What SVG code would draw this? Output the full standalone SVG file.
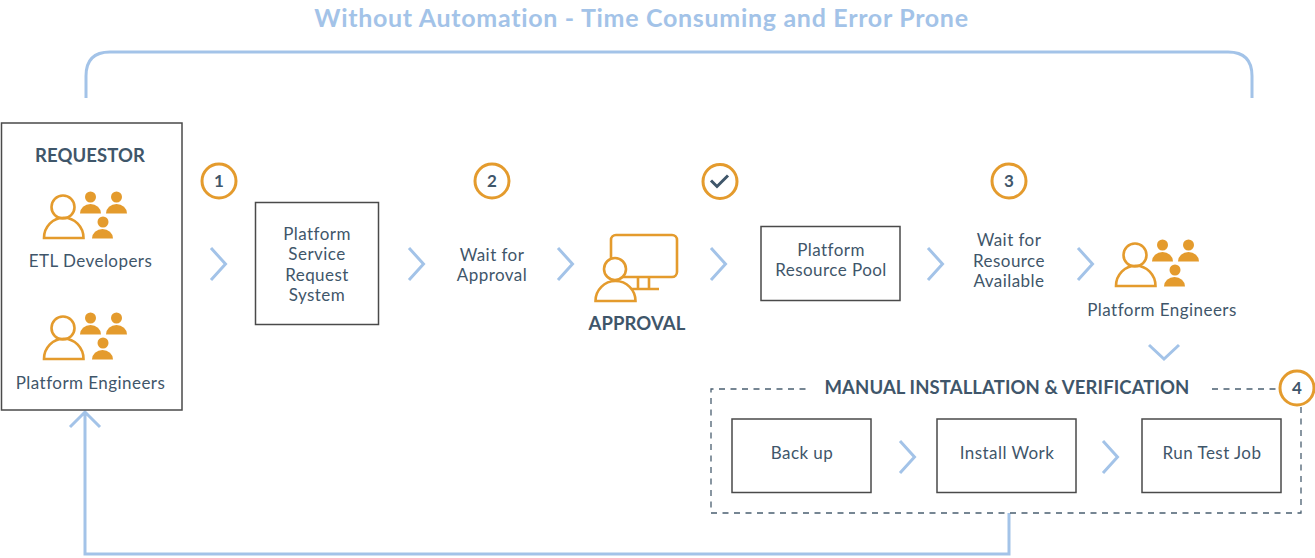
<svg xmlns="http://www.w3.org/2000/svg" width="1315" height="558" viewBox="0 0 1315 558">
<style>
text{font-family:"Lato","Noto Sans","Liberation Sans",sans-serif;fill:#3f566a;text-anchor:middle}
.l{font-size:17px;letter-spacing:.45px}
.h{font-size:18.500px;font-weight:700;letter-spacing:.1px}
.n{font-size:17px;font-weight:700}
.box{fill:#fff;stroke:#4a4a4a;stroke-width:1.5}
.ol{fill:none;stroke:#e49b2d;stroke-width:2.6}
.fi{fill:#e49b2d}
.ring{fill:#fff;stroke:#e49b2d;stroke-width:3}
.con{fill:none;stroke:#a3c3e8;stroke-width:3}
.dash{fill:none;stroke:#4a5f70;stroke-width:1.3;stroke-dasharray:6 5.500}
</style>
<defs>
<g id="people">
<circle class="ol" cx="63" cy="207" r="11.5"/>
<path class="ol" d="M44 238a19.500 20 0 0 1 39.500 0z"/>
<g class="fi">
<circle cx="90.500" cy="197" r="5.500"/><path d="M80 213.500a10.500 9.500 0 0 1 21 0z"/>
<circle cx="116.500" cy="197" r="5.500"/><path d="M106 213.500a10.500 9.500 0 0 1 21 0z"/>
<circle cx="103" cy="222" r="5.500"/><path d="M92 238.500a10.500 9.500 0 0 1 21 0z"/>
</g>
</g>
<path id="chev" class="con" d="M0 0l14.500 16-14.500 16"/>
</defs>
<text x="641.500" y="27" style="font-size:25px;font-weight:700;letter-spacing:.7px;fill:#a3c3e8">Without Automation - Time Consuming and Error Prone</text>
<g id="connectors">
<path class="con" d="M86 98V76Q86 52 110 52H1228Q1252 52 1252 76V98"/>
<path class="con" d="M1009 513V554H85V412M70 427L85 412 100 427"/>
<use href="#chev" x="211" y="248"/>
<use href="#chev" x="409" y="248"/>
<use href="#chev" x="558" y="248"/>
<use href="#chev" x="711" y="248"/>
<use href="#chev" x="928" y="248"/>
<use href="#chev" x="1078" y="248"/>
<path class="con" d="M1149 345l15 14 15-14"/>
<use href="#chev" x="900" y="441"/>
<use href="#chev" x="1103" y="441"/>
</g>
<g id="requestor">
<rect class="box" x="1.500" y="123" width="180.500" height="287"/>
<text x="90" y="162" class="h">REQUESTOR</text>
<use href="#people"/>
<text x="90.500" y="267" class="l">ETL Developers</text>
<use href="#people" y="121"/>
<text x="90.500" y="389" class="l">Platform Engineers</text>
</g>
<g id="step1"><circle class="ring" cx="219" cy="181" r="17"/><text x="219" y="187" class="n">1</text></g>
<g id="request-system">
<rect class="box" x="255.500" y="202.500" width="123" height="122"/>
<text x="317" y="239.500" class="l">Platform</text>
<text x="317" y="260" class="l">Service</text>
<text x="317" y="281" class="l">Request</text>
<text x="317" y="301" class="l">System</text>
</g>
<g id="step2"><circle class="ring" cx="492" cy="181" r="17"/><text x="492" y="187" class="n">2</text></g>
<g id="wait-approval">
<text x="492" y="261" class="l">Wait for</text>
<text x="492" y="281" class="l">Approval</text>
</g>
<g id="approval">
<rect class="ol" x="611" y="235" width="66" height="42" rx="5"/>
<path class="ol" d="M638 277V289M649 277V289M628 289H659"/>
<circle class="ol" cx="615" cy="269" r="11" style="fill:#fff"/>
<path class="ol" d="M595.500 301a20 20 0 0 1 40 0z" style="fill:#fff"/>
<text x="637" y="330" class="h">APPROVAL</text>
</g>
<g id="check"><circle class="ring" cx="720" cy="181.500" r="17"/><path d="M711 180.500l6 6 11-11" fill="none" stroke="#3f566a" stroke-width="3"/></g>
<g id="resource-pool">
<rect class="box" x="761" y="226.500" width="139" height="74"/>
<text x="831" y="256" class="l">Platform</text>
<text x="831" y="276" class="l">Resource Pool</text>
</g>
<g id="step3"><circle class="ring" cx="1009" cy="181" r="17"/><text x="1009" y="187" class="n">3</text></g>
<g id="wait-resource">
<text x="1009" y="246" class="l">Wait for</text>
<text x="1009" y="267" class="l">Resource</text>
<text x="1009" y="287" class="l">Available</text>
</g>
<g id="platform-engineers">
<use href="#people" x="1072" y="48"/>
<text x="1162" y="316" class="l">Platform Engineers</text>
</g>
<g id="manual">
<path class="dash" d="M1212 389H1280M1301 407V513H711V389H810"/>
<text x="1007" y="393.500" class="h">MANUAL INSTALLATION &amp; VERIFICATION</text>
</g>
<g id="step4"><circle class="ring" cx="1297" cy="388" r="17"/><text x="1297" y="394" class="n">4</text></g>
<g id="backup"><rect class="box" x="732" y="419" width="139" height="73.500"/><text x="802" y="459" class="l">Back up</text></g>
<g id="install"><rect class="box" x="937" y="419" width="139" height="73.500"/><text x="1007" y="459" class="l">Install Work</text></g>
<g id="runtest"><rect class="box" x="1142" y="419" width="139" height="73.500"/><text x="1212" y="459" class="l">Run Test Job</text></g>
</svg>
